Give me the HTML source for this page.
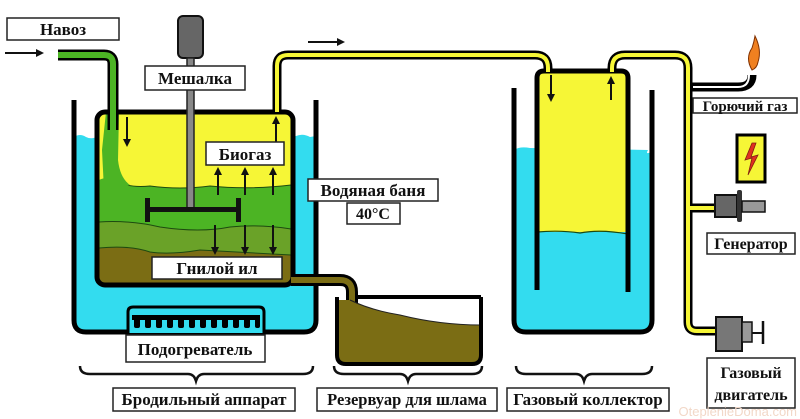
<!DOCTYPE html>
<html><head><meta charset="utf-8"><style>
html,body{margin:0;padding:0;background:#fff;}
svg{display:block;}
text{font-family:"Liberation Serif",serif;font-weight:bold;fill:#111;}
</style></head><body>
<svg width="800" height="419" viewBox="0 0 800 419" xmlns="http://www.w3.org/2000/svg">
<defs>
<marker id="ah" markerWidth="8" markerHeight="8" refX="6" refY="4" orient="auto" markerUnits="userSpaceOnUse"><path d="M0,0 L8,4 L0,8 z" fill="#111"/></marker>
</defs>
<rect width="800" height="419" fill="#fff"/>

<!-- Left water bath -->
<path d="M74,137 Q80,133 86,137 Q92,140 98,136 L296,136 Q303,133 310,137 L316,136 L316,320 Q316,332 304,332 L84,332 Q74,332 74,320 Z" fill="#33dcef"/>
<path d="M74,100 L74,320 Q74,332 86,332 L304,332 Q316,332 316,320 L316,100" fill="none" stroke="#000" stroke-width="5"/>

<!-- Inner vessel fills -->
<path d="M99,114 L291,114 L291,283 L99,283 Z" fill="#f6f636"/>
<path d="M99,180 Q110,175 120,182 Q130,188 150,186 Q180,190 210,186 Q250,190 291,185 L291,283 L99,283 Z" fill="#4cb424"/>
<path d="M99,222 Q130,220 160,227 Q200,233 230,227 Q260,224 291,229 L291,283 L99,283 Z" fill="#6aa228"/>
<path d="M99,248 Q130,245 150,252 Q170,255 200,250 L291,255 L291,283 L99,283 Z" fill="#7b6d14"/>
<path d="M99,222 Q130,220 160,227 Q200,233 230,227 Q260,224 291,229 M99,248 Q130,245 150,252 Q170,255 200,250 L291,255 M120,182 Q130,188 150,186 Q180,190 210,186 Q250,190 291,185" fill="none" stroke="#1d4a10" stroke-width="1"/>
<path d="M106,112 L119,112 L118,160 Q120,178 130,185 L104,190 L102,150 Z" fill="#4cb424"/>
<rect x="97" y="112" width="196" height="173" rx="8" fill="none" stroke="#000" stroke-width="5"/>

<!-- inlet pipe -->
<path d="M58,55 L104,55 Q113,55 113,64 L113,130" fill="none" stroke="#000" stroke-width="11"/>
<path d="M58,55 L104,55 Q113,55 113,64 L113,130" fill="none" stroke="#4cb424" stroke-width="6"/>
<line x1="5" y1="53" x2="42" y2="53" stroke="#111" stroke-width="2" marker-end="url(#ah)"/>
<rect x="7" y="18" width="112" height="22" fill="#fff" stroke="#222" stroke-width="1.5"/>
<text x="63" y="35" font-size="17" text-anchor="middle">Навоз</text>

<!-- Stirrer -->
<rect x="178" y="16" width="25" height="42" rx="5" fill="#666" stroke="#111" stroke-width="2"/>
<rect x="187" y="58" width="7" height="152" fill="#888" stroke="#222" stroke-width="1.5"/>
<rect x="145" y="66" width="100" height="24" fill="#fff" stroke="#222" stroke-width="1.5"/>
<text x="195" y="84" font-size="17" text-anchor="middle">Мешалка</text>
<rect x="148" y="207" width="90" height="5" fill="#111"/>
<rect x="145" y="198" width="5" height="24" fill="#111"/>
<rect x="236" y="198" width="5" height="24" fill="#111"/>

<g stroke="#111" stroke-width="2" marker-end="url(#ah)">
<line x1="127" y1="117" x2="127" y2="145"/>
<line x1="276" y1="143" x2="276" y2="118"/>
<line x1="218" y1="195" x2="218" y2="169"/>
<line x1="245" y1="195" x2="245" y2="169"/>
<line x1="273" y1="195" x2="273" y2="169"/>
<line x1="215" y1="225" x2="215" y2="253"/>
<line x1="245" y1="225" x2="245" y2="253"/>
<line x1="273" y1="225" x2="273" y2="253"/>
</g>
<rect x="206" y="142" width="78" height="23" fill="#fff" stroke="#222" stroke-width="1.5"/>
<text x="245" y="160" font-size="17" text-anchor="middle">Биогаз</text>
<rect x="152" y="257" width="130" height="22" fill="#fff" stroke="#222" stroke-width="1.5"/>
<text x="217" y="274" font-size="17" text-anchor="middle">Гнилой ил</text>

<!-- sludge pipe -->
<path d="M291,280 L340,280 Q352,280 352,292 L352,305" fill="none" stroke="#000" stroke-width="12"/>
<path d="M291,280 L340,280 Q352,280 352,292 L352,305" fill="none" stroke="#7b6d14" stroke-width="6"/>

<!-- Reservoir -->
<path d="M337,300 L350,300 Q370,310 400,315 Q440,325 481,325 L481,355 Q481,364 472,364 L346,364 Q337,364 337,355 Z" fill="#7b6d14"/>
<path d="M350,300 Q370,310 400,315 Q440,325 481,325" fill="none" stroke="#222" stroke-width="1"/>
<path d="M337,297 L337,355 Q337,364 346,364 L472,364 Q481,364 481,355 L481,297 M358,297 L481,297" fill="none" stroke="#000" stroke-width="4"/>

<!-- heater -->
<path d="M128,333 L128,312 Q128,307 133,307 L259,307 Q264,307 264,312 L264,333" fill="#33dcef" stroke="#000" stroke-width="3"/>
<g fill="#000">
<rect x="132" y="315" width="128" height="5"/>
<rect x="134" y="315" width="6" height="13" rx="2"/><rect x="145" y="315" width="6" height="13" rx="2"/><rect x="156" y="315" width="6" height="13" rx="2"/><rect x="167" y="315" width="6" height="13" rx="2"/><rect x="178" y="315" width="6" height="13" rx="2"/><rect x="189" y="315" width="6" height="13" rx="2"/><rect x="200" y="315" width="6" height="13" rx="2"/><rect x="211" y="315" width="6" height="13" rx="2"/><rect x="222" y="315" width="6" height="13" rx="2"/><rect x="233" y="315" width="6" height="13" rx="2"/><rect x="244" y="315" width="6" height="13" rx="2"/><rect x="255" y="315" width="5" height="13" rx="2"/>
</g>
<rect x="126" y="335" width="139" height="27" fill="#fff" stroke="#222" stroke-width="1.5"/>
<text x="195" y="355" font-size="17" text-anchor="middle">Подогреватель</text>

<rect x="308" y="179" width="130" height="22" fill="#fff" stroke="#222" stroke-width="1.5"/>
<text x="373" y="196" font-size="17" text-anchor="middle">Водяная баня</text>
<rect x="347" y="203" width="53" height="21" fill="#fff" stroke="#222" stroke-width="1.5"/>
<text x="373" y="219" font-size="16" text-anchor="middle">40°C</text>

<!-- Gas collector outer -->
<path d="M514,150 Q520,146 530,148 L648,150 Q645,155 651,152 L651,322 Q651,332 641,332 L524,332 Q514,332 514,322 Z" fill="#33dcef"/>
<path d="M514,88 L514,320 Q514,332 526,332 L640,332 Q652,332 652,320 L652,90" fill="none" stroke="#000" stroke-width="5"/>
<rect x="537" y="72" width="91" height="160" fill="#f6f636"/>
<path d="M537,232 Q560,230 580,233 Q600,229 628,234" fill="none" stroke="#1d4a10" stroke-width="1.2"/>
<path d="M537,290 L537,78 Q537,71 544,71 L621,71 Q628,71 628,78 L628,292" fill="none" stroke="#000" stroke-width="5"/>

<!-- gas pipe -->
<path d="M277,112 L277,66 Q277,55 288,55 L535,55 Q548,55 548,68 L548,72 M612,72 L612,68 Q612,55 625,55 L675,55 Q688,55 688,68 L688,322 Q688,331 697,331 L717,331 M688,87 L738,87 Q752,87 752,75 M688,208 L717,208" fill="none" stroke="#000" stroke-width="9"/>
<path d="M277,112 L277,66 Q277,55 288,55 L535,55 Q548,55 548,68 L548,72 M612,72 L612,68 Q612,55 625,55 L675,55 Q688,55 688,68 L688,322 Q688,331 697,331 L717,331 M688,208 L717,208" fill="none" stroke="#f6f636" stroke-width="4"/>
<path d="M693,87 L738,87 Q749,87 749,75" fill="none" stroke="#fff" stroke-width="2"/>
<line x1="308" y1="42" x2="343" y2="42" stroke="#111" stroke-width="2" marker-end="url(#ah)"/>
<g stroke="#111" stroke-width="2" marker-end="url(#ah)">
<line x1="551" y1="75" x2="551" y2="100"/>
<line x1="611" y1="100" x2="611" y2="78"/>
</g>

<path d="M752,70 Q745,58 752,48 Q754,42 755,36 Q762,50 758,62 Q757,68 752,70 Z" fill="#f08020" stroke="#803000" stroke-width="1"/>
<rect x="693" y="98" width="104" height="15" fill="#fff" stroke="#222" stroke-width="1.5"/>
<text x="745" y="111" font-size="15" text-anchor="middle">Горючий газ</text>

<rect x="737" y="135" width="28" height="47" fill="#f6f636" stroke="#000" stroke-width="3"/>
<path d="M752,143 L745,160 L752,158 L748,175 L758,155 L751,157 L756,143 Z" fill="#e03020" stroke="#802010" stroke-width="0.8"/>

<rect x="715" y="195" width="22" height="22" fill="#666" stroke="#111" stroke-width="2"/>
<rect x="737" y="190" width="5" height="32" rx="2" fill="#333"/>
<rect x="742" y="201" width="23" height="11" fill="#999" stroke="#111" stroke-width="1.5"/>
<rect x="707" y="233" width="88" height="21" fill="#fff" stroke="#222" stroke-width="1.5"/>
<text x="751" y="249" font-size="16" text-anchor="middle">Генератор</text>

<rect x="716" y="317" width="26" height="34" fill="#777" stroke="#111" stroke-width="2"/>
<rect x="742" y="322" width="10" height="20" fill="#999" stroke="#111" stroke-width="1.5"/>
<line x1="752" y1="333" x2="763" y2="333" stroke="#111" stroke-width="2"/>
<line x1="763" y1="321" x2="763" y2="344" stroke="#111" stroke-width="2.5"/>
<rect x="707" y="358" width="88" height="50" fill="#fff" stroke="#222" stroke-width="1.5"/>
<text x="751" y="378" font-size="16" text-anchor="middle">Газовый</text>
<text x="751" y="400" font-size="16" text-anchor="middle">двигатель</text>

<g fill="none" stroke="#111" stroke-width="2.5">
<path d="M80,366 Q80,374 90,374 L188,374 Q194,374 196,381 Q198,374 204,374 L303,374 Q313,374 313,366"/>
<path d="M334,366 Q334,374 344,374 L400,374 Q406,374 408,381 Q410,374 416,374 L472,374 Q482,374 482,366"/>
<path d="M516,366 Q516,374 526,374 L576,374 Q582,374 584,381 Q586,374 592,374 L642,374 Q652,374 652,366"/>
</g>
<rect x="113" y="388" width="182" height="23" fill="#fff" stroke="#222" stroke-width="1.5"/>
<text x="204" y="405" font-size="17" text-anchor="middle">Бродильный аппарат</text>
<rect x="317" y="388" width="180" height="23" fill="#fff" stroke="#222" stroke-width="1.5"/>
<text x="407" y="405" font-size="16.5" text-anchor="middle">Резервуар для шлама</text>
<rect x="507" y="388" width="162" height="23" fill="#fff" stroke="#222" stroke-width="1.5"/>
<text x="588" y="405" font-size="17" text-anchor="middle">Газовый коллектор</text>

<text x="797" y="416" font-size="13" text-anchor="end" style="font-family:'Liberation Sans',sans-serif;font-weight:normal;fill:#f2d8c8">OteplenieDoma.com</text>
</svg>
</body></html>
